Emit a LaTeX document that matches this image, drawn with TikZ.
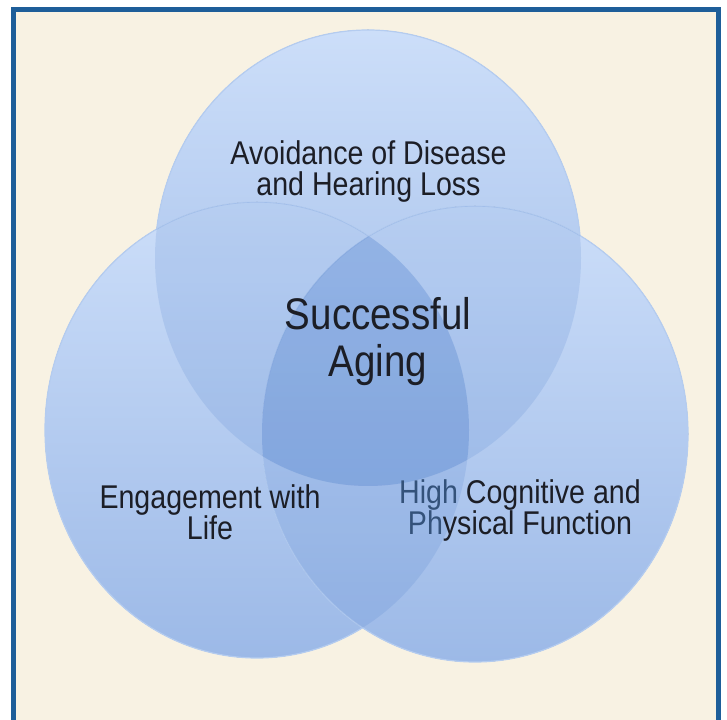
\documentclass[tikz,border=0pt]{standalone}
\usepackage{fontspec}
\setmainfont{Liberation Sans}
\definecolor{cream}{HTML}{F8F2E3}
\definecolor{framecol}{HTML}{1E5E99}
\definecolor{disctop}{HTML}{CCDEF9}
\definecolor{discbot}{HTML}{9CB9E7}
\definecolor{discrim}{HTML}{B4CCF0}
\definecolor{overlap}{HTML}{3F74C8}
\definecolor{txt}{HTML}{1C1E26}
\definecolor{tinted}{HTML}{34527A}
\begin{document}
\begin{tikzpicture}[x=1pt,y=1pt,
  disc/.style={top color=disctop, bottom color=discbot},
  rim/.style={draw=discrim, line width=1.2pt},
  overlay/.style={fill=overlap, fill opacity=0.15},
  lbl/.style={text=txt, align=center, anchor=base, inner sep=0pt, yscale=1.15,
    font=\fontsize{28.6pt}{27pt}\selectfont},
  biglbl/.style={lbl, font=\fontsize{38.5pt}{41.7pt}\selectfont}]
\useasboundingbox (0,0) rectangle (727,719);
\fill[white] (0,0) rectangle (727,719);
\fill[cream] (13.5,-3) rectangle (718,709.5);

% the three discs
\def\topdisc{(368,461) ellipse [x radius=213, y radius=228]}
\def\leftdisc{(257,289) ellipse [x radius=212, y radius=228]}
\def\rightdisc{(475,285) ellipse [x radius=213, y radius=228]}
\fill[disc] \topdisc;   \draw[rim] \topdisc;
\fill[disc] \leftdisc;  \draw[rim] \leftdisc;
\fill[disc] \rightdisc; \draw[rim] \rightdisc;

% darker overlaps
\begin{scope}\clip \topdisc; \fill[overlay] \leftdisc; \end{scope}
\begin{scope}\clip \topdisc; \fill[overlay] \rightdisc; \end{scope}
\begin{scope}\clip \leftdisc; \fill[overlay] \rightdisc; \end{scope}

% labels (anchored on the baseline of their last line)
\node[lbl] (avoid) at (368.5,523) {Avoidance of Disease\\and Hearing Loss};
\node[biglbl] (success) at (378,342) {Successful\\Aging};
\node[lbl] (engage) at (210,179) {Engagement with\\Life};
\node[lbl] (function) at (520,184) {\textcolor{tinted}{High} Cognitive and\\\textcolor{tinted}{Ph}ysical Function};

% frame
\draw[framecol, line width=5pt] (13.5,-3) rectangle (718,709.5);
\end{tikzpicture}
\end{document}
